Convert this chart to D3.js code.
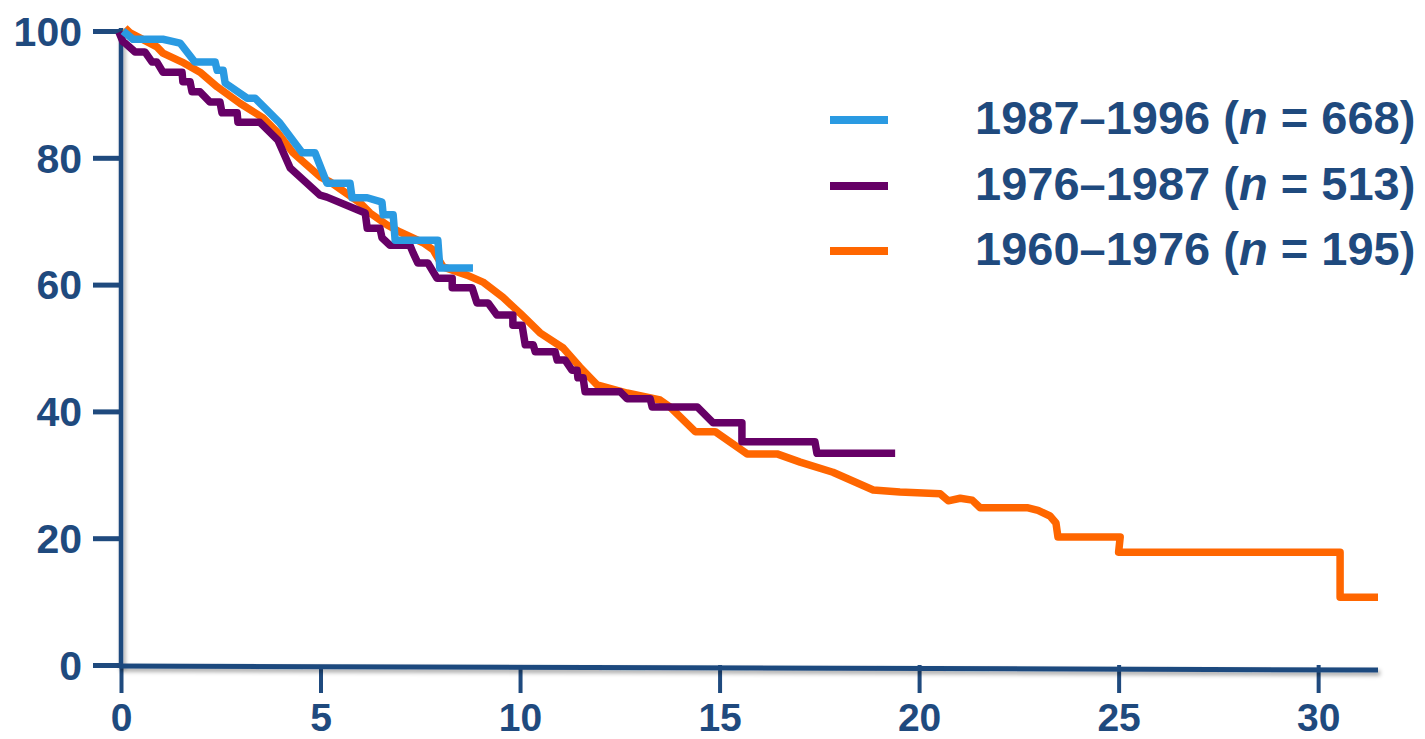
<!DOCTYPE html>
<html><head><meta charset="utf-8">
<script src="https://cdn.jsdelivr.net/npm/d3@7"></script>
<style>
html,body{margin:0;padding:0;background:#fff;}
svg{display:block;font-family:"Liberation Sans",Arial,sans-serif;}
</style></head>
<body><svg id="c" width="1425" height="739"></svg>
<script>
// ---- data (years, survival %) ----
const xTicks = [0, 5, 10, 15, 20, 25, 30];
const yTicks = [0, 20, 40, 60, 80, 100];
const seriesNames = ["1987–1996", "1976–1987", "1960–1976"];
const seriesN = [668, 513, 195];
const seriesColors = ["#2a9ae2", "#660066", "#ff6600"];

const blueT = [0.05,0.3,1.05,1.48,1.85,2.36,2.41,2.56,2.61,3.16,3.36,3.98,4.54,4.86,5.16,5.74,5.79,6.17,6.54,6.57,6.82,6.87,7.94,7.99,8.82];
const blueV = [100,98.7,98.7,98.1,95.1,95.1,93.8,93.8,91.8,89.4,89.4,85.5,80.8,80.8,76.0,76.0,73.7,73.7,73.0,71.0,71.0,67.0,67.0,62.6,62.6];

const purpleT = [-0.05,0.05,0.1,0.35,0.6,0.78,0.9,1.05,1.53,1.55,1.73,1.78,1.98,2.23,2.48,2.53,2.91,2.93,3.48,3.93,4.24,4.99,5.16,6.12,6.17,6.49,6.54,6.74,7.24,7.32,7.44,7.69,7.92,8.30,8.30,8.80,8.92,9.20,9.42,9.82,9.82,10.05,10.13,10.33,10.38,10.88,10.93,11.13,11.30,11.43,11.45,11.58,11.63,12.51,12.68,13.26,13.31,14.44,14.84,15.56,15.56,17.39,17.44,19.40];
const purpleV = [99.8,98.3,98.1,96.7,96.7,95.1,95.1,93.5,93.5,92.0,92.0,90.4,90.4,88.8,88.8,87.1,87.1,85.6,85.6,82.8,78.4,74.1,73.8,71.3,68.9,68.9,67.4,66.2,66.2,65.0,63.4,63.4,61.0,61.0,59.5,59.5,57.1,57.1,55.2,55.2,53.6,53.6,50.5,50.5,49.4,49.4,48.1,48.1,46.5,46.5,45.3,45.3,43.1,43.1,42.0,42.0,40.7,40.7,38.2,38.2,35.2,35.2,33.4,33.4];

const orangeT = [0.1,0.23,0.9,1.05,1.53,1.98,2.41,2.98,3.56,3.91,4.31,4.99,5.24,5.99,6.24,6.67,6.99,7.57,7.82,8.07,8.67,9.07,9.57,10.0,10.5,11.08,11.5,11.93,12.68,13.51,13.76,14.39,14.89,15.69,16.44,17.02,17.84,18.85,19.52,20.53,20.73,21.03,21.33,21.53,22.73,22.98,23.28,23.43,23.48,25.04,25.0,30.55,30.55,31.5];
const orangeV = [100.5,99.7,97.5,96.5,95.1,93.5,91.2,88.6,86.3,84.1,80.8,77.0,76.2,72.9,71.3,69.4,68.3,66.6,65.5,62.8,61.5,60.4,58.0,55.5,52.4,50.0,47.0,44.2,42.9,41.8,40.7,36.8,36.8,33.3,33.3,32.0,30.4,27.6,27.3,27.0,25.9,26.3,26.0,24.8,24.8,24.4,23.5,22.4,20.2,20.2,17.8,17.8,10.7,10.7];

const seriesT = [blueT, purpleT, orangeT];
const seriesV = [blueV, purpleV, orangeV];

// ---- drawing ----
const axisColor = "#1f4a7e";
const svg = d3.select("#c");
const x = d3.scaleLinear().domain([0, 31.5]).range([121, 1378]);
const y = d3.scaleLinear().domain([0, 100]).range([665, 31]);

const defs = svg.append("defs");
const f = defs.append("filter").attr("id","sh").attr("filterUnits","userSpaceOnUse")
  .attr("x",0).attr("y",0).attr("width",1425).attr("height",739);
f.append("feDropShadow").attr("dx",2).attr("dy",3).attr("stdDeviation",2).attr("flood-color","#000").attr("flood-opacity",0.35);

// y axis
const gy = svg.append("g").attr("transform", `translate(${x(0)},0)`)
  .call(d3.axisLeft(y).tickValues(yTicks).tickSize(28).tickPadding(11).tickSizeOuter(0));
gy.select(".domain").remove();
gy.selectAll(".tick line").attr("stroke", axisColor).attr("stroke-width", 5);
gy.selectAll(".tick text").attr("fill", axisColor).attr("font-size", 41).attr("font-weight", "bold")
  .attr("font-family", "'Liberation Sans', Arial, sans-serif").attr("dy", "0.35em");

// x axis
const gx = svg.append("g").attr("transform", `translate(0,${y(0)})`)
  .call(d3.axisBottom(x).tickValues(xTicks).tickSize(28).tickPadding(10).tickSizeOuter(0));
gx.select(".domain").remove();
gx.selectAll(".tick line").attr("stroke", axisColor).attr("stroke-width", 4);
gx.selectAll(".tick text").attr("fill", axisColor).attr("font-size", 39).attr("font-weight", "bold")
  .attr("font-family", "'Liberation Sans', Arial, sans-serif");

// axis lines with shadow
svg.append("line").attr("x1", x(0)).attr("x2", x(0)).attr("y1", y(100) - 3).attr("y2", y(0) + 2)
  .attr("stroke", axisColor).attr("stroke-width", 4.5).attr("filter","url(#sh)");
svg.append("line").attr("x1", x(0) - 2).attr("x2", x(31.5)).attr("y1", y(0) + 1).attr("y2", y(0) + 5)
  .attr("stroke", axisColor).attr("stroke-width", 5).attr("filter","url(#sh)");

// curves: orange, purple, blue
const line = d3.line().x(d => x(d[0])).y(d => y(d[1]));
[2, 1, 0].forEach(i => {
  const pts = seriesT[i].map((t, k) => [t, seriesV[i][k]]);
  svg.append("path").attr("d", line(pts)).attr("fill", "none")
    .attr("stroke", seriesColors[i]).attr("stroke-width", 7.5)
    .attr("stroke-linejoin", "round");
});

// legend
const legY = [120, 186, 251];
seriesNames.forEach((name, i) => {
  svg.append("line").attr("x1", 830).attr("x2", 888).attr("y1", legY[i]).attr("y2", legY[i])
    .attr("stroke", seriesColors[i]).attr("stroke-width", 8);
  const t = svg.append("text").attr("x", 975).attr("y", legY[i] + 14)
    .attr("fill", axisColor).attr("font-size", 47).attr("font-weight", "bold");
  t.append("tspan").text(name + " (");
  t.append("tspan").attr("font-style", "italic").text("n");
  t.append("tspan").text(" = " + seriesN[i] + ")");
});
</script></body></html>
